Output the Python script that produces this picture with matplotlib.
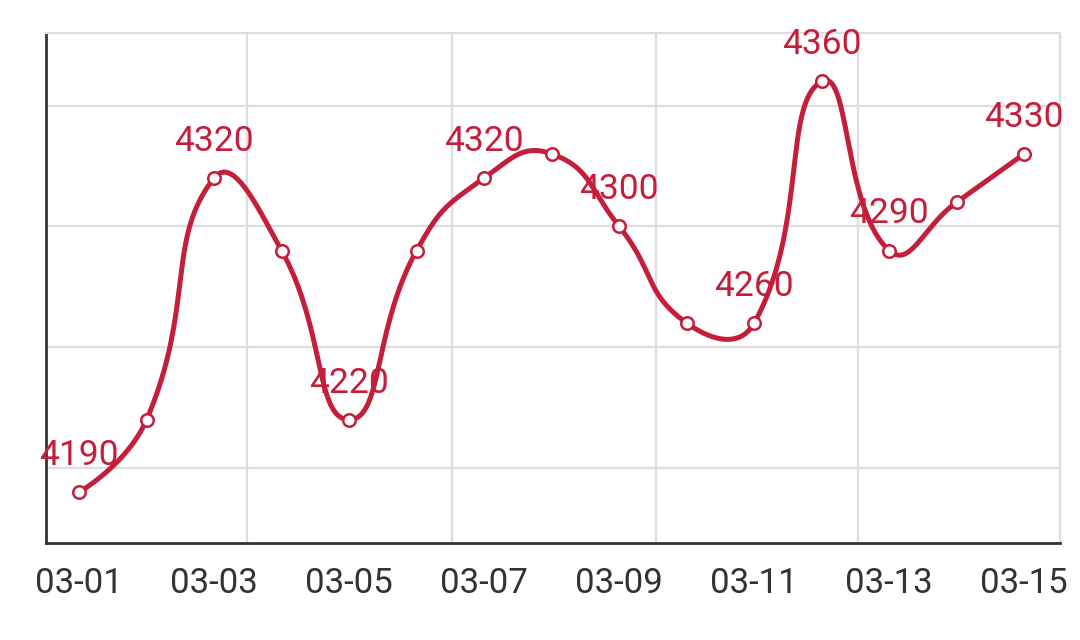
import numpy as np
import matplotlib
matplotlib.use("Agg")
import matplotlib.pyplot as plt

dates = ["03-01", "03-02", "03-03", "03-04", "03-05", "03-06", "03-07", "03-08",
         "03-09", "03-10", "03-11", "03-12", "03-13", "03-14", "03-15"]
values = [4190, 4220, 4320, 4290, 4220, 4290, 4320, 4330,
          4300, 4260, 4260, 4360, 4290, 4310, 4330]
labelled = [0, 2, 4, 6, 8, 10, 11, 12, 14]
tick_idx = [0, 2, 4, 6, 8, 10, 12, 14]
y_grid = [4200, 4250, 4300, 4350]
x_grid = [2.49, 5.52, 8.54, 11.54]

RED = "#C41E3A"
GRID = "#dddddd"
AXIS = "#333333"

plt.rcParams["font.family"] = ["Roboto", "DejaVu Sans"]


def smooth_curve(px, py, smooth=0.5, steps=40):
    # echarts-like bezier smoothing, done in pixel space
    n = len(px)
    out_x, out_y = [], []
    cps = []
    for i in range(n):
        if i == 0 or i == n - 1:
            cps.append(((px[i], py[i]), (px[i], py[i])))
            continue
        vx = px[i + 1] - px[i - 1]
        vy = py[i + 1] - py[i - 1]
        d0 = np.hypot(px[i] - px[i - 1], py[i] - py[i - 1])
        d1 = np.hypot(px[i + 1] - px[i], py[i + 1] - py[i])
        r = d1 / (d0 + d1)
        before = (px[i] - vx * smooth * (1 - r), py[i] - vy * smooth * (1 - r))
        after = (px[i] + vx * smooth * r, py[i] + vy * smooth * r)
        cps.append((before, after))
    t = np.linspace(0, 1, steps)
    for i in range(n - 1):
        p0 = np.array([px[i], py[i]])
        p1 = np.array(cps[i][1])
        p2 = np.array(cps[i + 1][0])
        p3 = np.array([px[i + 1], py[i + 1]])
        seg = ((1 - t) ** 3)[:, None] * p0 + (3 * (1 - t) ** 2 * t)[:, None] * p1 \
            + (3 * (1 - t) * t ** 2)[:, None] * p2 + (t ** 3)[:, None] * p3
        out_x.extend(seg[:, 0])
        out_y.extend(seg[:, 1])
    return np.array(out_x), np.array(out_y)


fig = plt.figure(figsize=(10.8, 6.4), dpi=100)
ax = fig.add_axes([46 / 1080, 1 - 543 / 640, (1060 - 46) / 1080, (543 - 33) / 640])
ax.set_xlim(-0.49, 14.53)
ax.set_ylim(4169, 4380)

for g in y_grid:
    ax.axhline(g, color=GRID, lw=1.6, zorder=0)
for g in x_grid:
    ax.axvline(g, color=GRID, lw=1.6, zorder=0)

xs = np.arange(len(values))
pts = ax.transData.transform(np.column_stack([xs, values]))
cx, cy = smooth_curve(pts[:, 0], pts[:, 1])
curve = ax.transData.inverted().transform(np.column_stack([cx, cy]))
ax.plot(curve[:, 0], curve[:, 1], color=RED, lw=3.6, zorder=2,
        solid_capstyle="round", solid_joinstyle="round")
ax.plot(xs, values, "o", ms=9.0, mfc="white", mec=RED, mew=1.8, zorder=3)

for i in labelled:
    ax.annotate(str(values[i]), (xs[i], values[i]), xytext=(0, 19.5),
                textcoords="offset points", ha="center", va="baseline",
                color=RED, fontsize=25.5, zorder=4)

ax.set_xticks(tick_idx)
ax.set_xticklabels([dates[i] for i in tick_idx])
ax.set_yticks([])
ax.tick_params(axis="x", length=0, pad=17, labelsize=25, colors=AXIS)

for side in ["top", "right"]:
    ax.spines[side].set_color(GRID)
    ax.spines[side].set_linewidth(1.6)
for side in ["left", "bottom"]:
    ax.spines[side].set_color(AXIS)
    ax.spines[side].set_linewidth(2.0)

fig.savefig("out.png", dpi=100)
